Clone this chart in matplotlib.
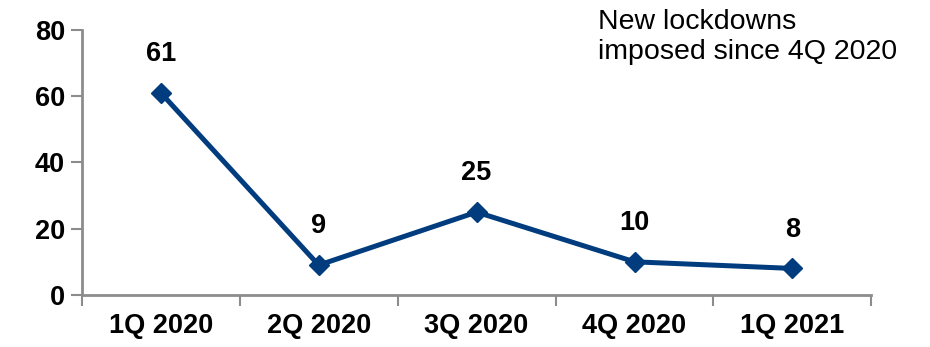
import matplotlib.pyplot as plt
from matplotlib.ticker import FixedLocator, NullFormatter

plt.rcParams['font.family'] = ['Liberation Sans', 'DejaVu Sans']

# Lockdowns imposed per quarter
quarters = ['1Q 2020', '2Q 2020', '3Q 2020', '4Q 2020', '1Q 2021']
lockdowns = [61, 9, 25, 10, 8]

line_color = '#003C7E'
axis_color = '#8C8C8C'

fig = plt.figure(figsize=(9.3, 3.47), dpi=100)
ax = fig.add_axes([0.088, 0.150, 0.849, 0.764])

x = [i + 0.5 for i in range(len(quarters))]
ax.plot(x, lockdowns, color=line_color, linewidth=3.6, marker='D',
        markersize=10, clip_on=False, zorder=3)

for xi, v in zip(x, lockdowns):
    ax.annotate(str(v), (xi, v), xytext=(0, 28), textcoords='offset points',
                ha='center', va='center', fontsize=19.5, fontweight='bold')

ax.set_xlim(0, len(quarters))
ax.set_ylim(0, 80)
ax.set_yticks([0, 20, 40, 60, 80])

# category labels centred, tick marks between categories
ax.xaxis.set_major_locator(FixedLocator(range(len(quarters) + 1)))
ax.xaxis.set_major_formatter(NullFormatter())
ax.xaxis.set_minor_locator(FixedLocator(x))
ax.set_xticklabels(quarters, minor=True)
ax.tick_params(axis='x', which='minor', length=0, pad=13,
               labelsize=19.5)
ax.tick_params(axis='x', which='major', length=8, width=1.5,
               color=axis_color, direction='out')
ax.tick_params(axis='y', length=8, width=1.5, color=axis_color,
               labelsize=19.5, pad=4)
for lbl in ax.get_xticklabels(minor=True) + ax.get_yticklabels():
    lbl.set_fontweight('bold')

for side in ['top', 'right']:
    ax.spines[side].set_visible(False)
for side in ['left', 'bottom']:
    ax.spines[side].set_color(axis_color)
    ax.spines[side].set_linewidth(2)

fig.text(0.643, 0.975, 'New lockdowns\nimposed since 4Q 2020',
         ha='left', va='top', fontsize=20.5, linespacing=1.2)

fig.savefig('out.png', dpi=100)
